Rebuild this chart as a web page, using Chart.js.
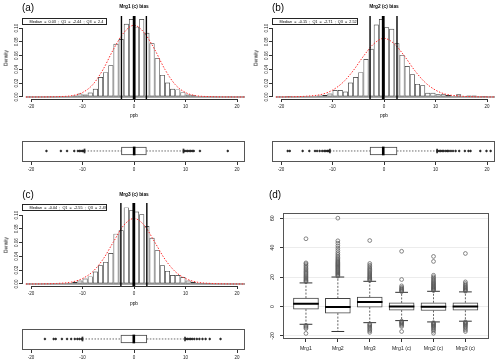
<!DOCTYPE html>
<html lang="en">
<head>
<meta charset="utf-8">
<title>Mrg bias</title>
<script src="https://cdn.jsdelivr.net/npm/chart.js@4.4.1/dist/chart.umd.min.js"></script>
<style>
  body { margin: 0; background: #fff; }
  #fig { position: relative; width: 500px; height: 363px; overflow: hidden; background: #fff;
         font-family: 'Liberation Sans', Arial, sans-serif; color: #000; }
  #fig canvas { position: absolute; }
  .txt { position: absolute; white-space: pre; line-height: 1; transform: translate(-50%, -50%); opacity: 0.99; will-change: transform; }
  .tag { font-size: 10px; }
  .ttl { font-size: 4.8px; font-weight: bold; }
  .lab { font-size: 4.8px; }
  .rot { transform: translate(-50%, -50%) rotate(-90deg); }
  .leg { position: absolute; box-sizing: border-box; height: 7.4px; border: 0.7px solid #222; background: #fff;
         font-size: 3.8px; line-height: 6px; padding-left: 6.6px; white-space: pre; color: #000; opacity: 0.99; will-change: transform; }
</style>
</head>
<body>
<div id="fig">
  <canvas id="histA" width="250" height="120" style="left:0;top:0"></canvas>
  <canvas id="boxA" width="250" height="56" style="left:0;top:121px"></canvas>
  <canvas id="histB" width="250" height="120" style="left:250px;top:0"></canvas>
  <canvas id="boxB" width="250" height="56" style="left:250px;top:121px"></canvas>
  <canvas id="histC" width="250" height="120" style="left:0;top:187px"></canvas>
  <canvas id="boxC" width="250" height="55" style="left:0;top:308px"></canvas>
  <canvas id="boxD" width="250" height="178" style="left:250px;top:185px"></canvas>

  <div class="txt tag" style="left:27.5px;top:7.5px">(a)</div>
  <div class="txt tag" style="left:277.5px;top:7.5px">(b)</div>
  <div class="txt tag" style="left:27.5px;top:195px">(c)</div>
  <div class="txt tag" style="left:275px;top:194.5px">(d)</div>

  <div class="txt ttl" style="left:133.5px;top:7px">Mrg1 (c) bias</div>
  <div class="txt ttl" style="left:383.5px;top:7px">Mrg2 (c) bias</div>
  <div class="txt ttl" style="left:133.5px;top:195px">Mrg3 (c) bias</div>

  <div class="txt lab rot" style="left:7px;top:57.5px">Density</div>
  <div class="txt lab rot" style="left:257px;top:57.5px">Density</div>
  <div class="txt lab rot" style="left:7px;top:244.5px">Density</div>

  <div class="txt lab" style="left:133.5px;top:116px">ppb</div>
  <div class="txt lab" style="left:383.5px;top:116px">ppb</div>
  <div class="txt lab" style="left:133.5px;top:304px">ppb</div>

  <div class="leg" id="legA" style="left:22px;top:17.5px;width:85px"></div>
  <div class="leg" id="legB" style="left:272px;top:17.5px;width:86px"></div>
  <div class="leg" id="legC" style="left:22px;top:204.3px;width:85px"></div>
</div>

<script>
// Dolne granice przedziałów histogramu (ppb), szerokość 1
const binLo = [-21, -20, -19, -18, -17, -16, -15, -14, -13, -12, -11, -10, -9, -8, -7, -6, -5, -4, -3, -2, -1,
  0, 1, 2, 3, 4, 5, 6, 7, 8, 9, 10, 11, 12, 13, 14, 15, 16, 17, 18, 19, 20, 21];

// Gęstości histogramów (a), (b), (c)
const densA = [0, 0, 0, 0, 0.0005, 0, 0.0005, 0.001, 0.001, 0.002, 0.005, 0.0035, 0.0065, 0.012, 0.029, 0.036, 0.046, 0.077, 0.084, 0.106, 0.113,
  0.102, 0.113, 0.093, 0.078, 0.056, 0.032, 0.021, 0.012, 0.011, 0.007, 0.0035, 0.0025, 0.001, 0.001, 0.0005, 0.0005, 0, 0, 0.0005, 0, 0, 0];
const densB = [0, 0, 0.0015, 0, 0.0005, 0.0005, 0.0005, 0.001, 0.002, 0.003, 0.005, 0.010, 0.010, 0.008, 0.021, 0.029, 0.036, 0.055, 0.070, 0.105, 0.113,
  0.101, 0.099, 0.078, 0.061, 0.045, 0.033, 0.019, 0.017, 0.006, 0.006, 0.004, 0.004, 0.003, 0.001, 0.004, 0.001, 0.002, 0.002, 0.0005, 0.0015, 0, 0];
const densC = [0, 0, 0, 0.0005, 0.0005, 0.001, 0.0005, 0.001, 0.0015, 0.003, 0.005, 0.008, 0.011, 0.018, 0.027, 0.032, 0.045, 0.073, 0.078, 0.111, 0.107,
  0.105, 0.101, 0.084, 0.067, 0.049, 0.027, 0.019, 0.013, 0.013, 0.010, 0.005, 0.003, 0.0015, 0.0015, 0.0015, 0, 0, 0, 0, 0, 0, 0];

// Krzywa normalna (czerwona, przerywana)
const curveX = [-21, -18, -15, -12, -10, -8, -6, -4, -2, 0, 2, 4, 6, 8, 10, 12, 15, 18, 22];
const curveA = [0, 0.0001, 0.0005, 0.002, 0.0065, 0.018, 0.040, 0.069, 0.093, 0.104, 0.093, 0.069, 0.040, 0.018, 0.0065, 0.002, 0.0005, 0.0001, 0];
const curveB = [0, 0.0003, 0.0012, 0.004, 0.010, 0.021, 0.038, 0.059, 0.077, 0.085, 0.077, 0.059, 0.038, 0.021, 0.010, 0.004, 0.0012, 0.0003, 0];
const curveC = [0, 0.0002, 0.0008, 0.003, 0.008, 0.018, 0.036, 0.061, 0.085, 0.095, 0.085, 0.061, 0.036, 0.018, 0.008, 0.003, 0.0008, 0.0002, 0];

// Statystyki paneli (a), (b), (c)
const panelMedian = [0.03, -0.15, -0.04];
const panelQ1 = [-2.44, -2.71, -2.55];
const panelQ3 = [2.4, 2.52, 2.49];
const panelWhiskLo = [-9.6, -10.5, -10.0];
const panelWhiskHi = [9.6, 10.3, 9.9];

// Wartości odstające w poziomych wykresach pudełkowych
const outA = [-17, -14.2, -13, -11.6, -10.9, -10.6, -10.3, -10, -9.8, 9.8, 10.1, 10.4, 10.7, 11, 11.3, 11.6, 12.8, 18.2];
const outB = [-18.7, -18.3, -15.8, -14.5, -13.4, -13, -12.5, -12, -11.6, -11.3, -11, -10.8, -10.6,
  10.4, 10.7, 11, 11.3, 11.6, 12, 12.3, 12.6, 13, 13.4, 13.9, 14.6, 15.7, 16.4, 16.8, 18.7, 19.9, 20.7];
const outC = [-17.3, -15.6, -15.2, -14, -13, -12.2, -11.5, -11, -10.6, -10.2,
  10.1, 10.4, 10.7, 11, 11.3, 11.7, 12.2, 12.7, 13.3, 13.9, 14.7, 16.8];

// Panel (d)
const boxGroups = ['Mrg1', 'Mrg2', 'Mrg3', 'Mrg1 (c)', 'Mrg2 (c)', 'Mrg3 (c)'];
const boxQ1 = [-1.8, -4.5, -0.4, -2.44, -2.71, -2.55];
const boxMed = [1.9, -0.4, 3.0, 0.03, -0.15, -0.04];
const boxQ3 = [5.7, 5.5, 6.4, 2.4, 2.52, 2.49];
const boxLo = [-12.1, -17.0, -11.0, -9.6, -10.5, -10.0];
const boxHi = [16.0, 20.0, 17.1, 9.6, 10.3, 9.9];
const boxOut = [
  [16.8, 17.4, 18, 18.7, 19.4, 20.1, 20.8, 21.6, 22.4, 23.2, 24, 24.9, 25.8, 26.8, 27.8, 28.9, 29.6, 46, -12.8, -13.5, -14.2, -15, -18.3],
  [20.6, 21.2, 21.8, 22.4, 23, 23.6, 24.2, 24.8, 25.4, 26, 26.6, 27.2, 27.8, 28.4, 29, 29.6, 30.2, 30.9, 31.6, 32.4, 33.3, 34.3, 35.4, 36.6, 38.1, 39.6, 41.2, 43, 44.6, 60],
  [17.6, 18.2, 18.8, 19.4, 20, 20.7, 21.4, 22.1, 22.8, 23.6, 24.4, 25.2, 26, 27, 28, 29.2, 44.8, -11.8, -12.5, -13.2, -14, -14.8, -15.7, -16.6, -17.6],
  [10.1, 10.6, 11.1, 11.7, 12.3, 13, 14, 18.3, 37.5, -10, -10.5, -11, -11.5, -12.1, -12.8, -13.6, -17],
  [10.8, 11.3, 11.8, 12.3, 12.8, 13.3, 13.8, 14.4, 15, 15.6, 16.2, 16.9, 17.6, 18.4, 19.2, 20.1, 21.2, 30.6, 34, -11, -11.5, -12, -12.5, -13, -13.6, -14.2, -15, -15.8, -16.8, -18.2],
  [10.4, 10.9, 11.4, 12, 12.6, 13.2, 13.9, 14.7, 15.6, 16.7, 36, -10.5, -11, -11.5, -12, -12.6, -13.3, -14, -14.9, -15.9, -17]
];

// Etykiety osi
const histXTicks = [-20, -10, 0, 10, 20];
const densTicks = [0, 0.02, 0.04, 0.06, 0.08, 0.10];
const boxYTicks = [-20, 0, 20, 40, 60];

// Zakresy osi (jak w R, z marginesem 4%)
const histXMin = -21.75, histXMax = 21.55;
const histYMin = -0.0029, histYMax = 0.1174;
const boxXMin = 0.28, boxXMax = 6.74;
const boxYMin = -22.1, boxYMax = 63.5;

const FONT = "'Liberation Sans', Arial, sans-serif";

// Wtyczka: ramka i linie osi w stylu R
const rAxes = {
  id: 'rAxes',
  afterDraw(chart, args, opts) {
    const ctx = chart.ctx;
    const a = chart.chartArea;
    ctx.save();
    ctx.lineWidth = 1;
    ctx.strokeStyle = opts.color || '#333';
    if (opts.frame) {
      ctx.strokeRect(Math.round(a.left) + 0.5, Math.round(a.top) + 0.5,
        Math.round(a.right - a.left) - 1, Math.round(a.bottom - a.top) - 1);
    }
    if (opts.axisLines) {
      const sx = chart.scales.x, sy = chart.scales.y;
      const tx = sx.ticks, ty = sy.ticks;
      const yb = Math.round(a.bottom) + 0.5, xl = Math.round(a.left) + 0.5;
      ctx.beginPath();
      ctx.moveTo(sx.getPixelForValue(tx[0].value), yb);
      ctx.lineTo(sx.getPixelForValue(tx[tx.length - 1].value), yb);
      ctx.moveTo(xl, sy.getPixelForValue(ty[0].value));
      ctx.lineTo(xl, sy.getPixelForValue(ty[ty.length - 1].value));
      ctx.stroke();
    }
    ctx.restore();
  }
};

// Funkcja pomocnicza: oś X z podanymi etykietami
function xAxis(min, max, ticks, height, fontSize, pad, cb) {
  return {
    type: 'linear', min: min, max: max, offset: false,
    grid: { offset: false, drawOnChartArea: false, tickLength: 3, color: '#333' },
    border: { display: false },
    ticks: { font: { size: fontSize, family: FONT }, color: '#222', padding: pad, maxRotation: 0, autoSkip: false, callback: cb },
    afterBuildTicks: s => { s.ticks = ticks.map(v => ({ value: v })); },
    afterFit: s => { s.height = height; }
  };
}

// Funkcja pomocnicza: oś Y z pionowymi etykietami
function yAxis(min, max, ticks, width, fontSize, pad, cb, gridColor) {
  return {
    type: 'linear', min: min, max: max, offset: false,
    grid: { offset: false, drawOnChartArea: !!gridColor, color: gridColor || '#333', tickColor: '#333', tickLength: 3 },
    border: { display: false },
    ticks: { font: { size: fontSize, family: FONT }, color: '#222', padding: pad, minRotation: 90, maxRotation: 90, crossAlign: 'center', callback: cb },
    afterBuildTicks: s => { s.ticks = ticks.map(v => ({ value: v })); },
    afterFit: s => { s.width = width; }
  };
}

// Funkcja do rysowania histogramu z kwartylami i krzywą
function drawHist(id, dens, curve, p) {
  const vline = (x, w) => ({
    type: 'line', data: [{ x: x, y: histYMin }, { x: x, y: histYMax }],
    borderColor: '#000', borderWidth: w, pointRadius: 0
  });
  new Chart(document.getElementById(id), {
    type: 'bar',
    data: {
      datasets: [
        vline(panelMedian[p], 2.8),
        vline(panelQ1[p], 1.4),
        vline(panelQ3[p], 1.4),
        {
          type: 'line', data: curveX.map((x, i) => ({ x: x, y: curve[i] })),
          borderColor: '#ff2a2a', borderWidth: 1, borderDash: [1.5, 1.5], pointRadius: 0, cubicInterpolationMode: 'monotone'
        },
        {
          type: 'line', data: [{ x: binLo[0], y: 0 }, { x: binLo[binLo.length - 1] + 1, y: 0 }],
          borderColor: '#555', borderWidth: 1, pointRadius: 0
        },
        {
          type: 'bar', data: binLo.map((b, i) => ({ x: b + 0.5, y: dens[i] })),
          backgroundColor: 'rgba(0,0,0,0)', borderColor: '#333', borderWidth: 0.7, borderSkipped: false,
          barPercentage: 1, categoryPercentage: 1, inflateAmount: 0
        }
      ]
    },
    options: {
      responsive: false, animation: false, events: [],
      layout: { padding: { left: 0, right: 5, top: 16, bottom: 0 } },
      plugins: { legend: { display: false }, tooltip: { enabled: false }, rAxes: { axisLines: true } },
      scales: {
        x: xAxis(histXMin, histXMax, histXTicks, 21, 4.5, 2),
        y: yAxis(histYMin, histYMax, densTicks, 22, 4.5, -2, v => v.toFixed(2))
      }
    },
    plugins: [rAxes]
  });
}

// Funkcja do rysowania poziomego wykresu pudełkowego
function drawHBox(id, out, p, topPad, axisH) {
  const med = panelMedian[p], q1 = panelQ1[p], q3 = panelQ3[p];
  const lo = panelWhiskLo[p], hi = panelWhiskHi[p];
  const hbar = (data, color, thick, border) => ({
    type: 'bar', indexAxis: 'y', grouped: false, data: data,
    backgroundColor: color, borderColor: '#444', borderWidth: border, borderSkipped: false, barThickness: thick
  });
  new Chart(document.getElementById(id), {
    type: 'bar',
    data: {
      datasets: [
        { type: 'scatter', data: out.map(v => ({ x: v, y: 0 })), pointRadius: 0.9, borderWidth: 0.6, borderColor: '#111', backgroundColor: '#333' },
        hbar([{ y: 0, x: [med - 0.19, med + 0.19] }], '#000', 8, 0),
        hbar([{ y: 0, x: [lo - 0.1, lo + 0.1] }, { y: 0, x: [hi - 0.1, hi + 0.1] }], '#333', 4, 0),
        {
          type: 'line', data: [{ x: lo, y: 0 }, { x: q1, y: 0 }, { x: q1, y: null }, { x: q3, y: 0 }, { x: hi, y: 0 }],
          borderColor: '#444', borderWidth: 0.8, borderDash: [1.5, 1.5], pointRadius: 0, spanGaps: false
        },
        hbar([{ y: 0, x: [q1, q3] }], '#fff', 8, 1)
      ]
    },
    options: {
      responsive: false, animation: false, events: [],
      layout: { padding: { left: 22, right: 5, top: topPad, bottom: 0 } },
      plugins: { legend: { display: false }, tooltip: { enabled: false }, rAxes: { frame: true, color: '#555' } },
      scales: {
        x: xAxis(histXMin, histXMax, histXTicks, axisH, 4.5, 2),
        y: { type: 'linear', min: -1.05, max: 0.95, offset: false, display: false }
      }
    },
    plugins: [rAxes]
  });
}

// Funkcja do rysowania panelu (d)
function drawBoxes() {
  const n = boxGroups.length;
  const medians = [], whiskers = [], caps = [], points = [];
  for (let i = 0; i < n; i++) {
    const c = i + 1;
    medians.push({ x: c - 0.4, y: boxMed[i] }, { x: c + 0.4, y: boxMed[i] }, { x: c + 0.4, y: null });
    whiskers.push({ x: c, y: boxQ3[i] }, { x: c, y: boxHi[i] }, { x: c, y: null },
      { x: c, y: boxQ1[i] }, { x: c, y: boxLo[i] }, { x: c, y: null });
    caps.push({ x: c - 0.2, y: boxHi[i] }, { x: c + 0.2, y: boxHi[i] }, { x: c + 0.2, y: null },
      { x: c - 0.2, y: boxLo[i] }, { x: c + 0.2, y: boxLo[i] }, { x: c + 0.2, y: null });
    boxOut[i].forEach(v => points.push({ x: c, y: v }));
  }
  new Chart(document.getElementById('boxD'), {
    type: 'bar',
    data: {
      datasets: [
        { type: 'scatter', data: points, pointRadius: 1.9, borderWidth: 0.7, borderColor: '#555', backgroundColor: 'rgba(0,0,0,0)' },
        { type: 'line', data: medians, borderColor: '#000', borderWidth: 2, pointRadius: 0, spanGaps: false },
        { type: 'line', data: caps, borderColor: '#333', borderWidth: 1, pointRadius: 0, spanGaps: false },
        { type: 'line', data: whiskers, borderColor: '#555', borderWidth: 0.9, borderDash: [2, 1.5], pointRadius: 0, spanGaps: false },
        {
          type: 'bar', data: boxGroups.map((g, i) => ({ x: i + 1, y: [boxQ1[i], boxQ3[i]] })),
          backgroundColor: '#fff', borderColor: '#444', borderWidth: 1, borderSkipped: false, barThickness: 25
        }
      ]
    },
    options: {
      responsive: false, animation: false, events: [],
      layout: { padding: { left: 0, right: 11, top: 28, bottom: 0 } },
      plugins: { legend: { display: false }, tooltip: { enabled: false }, rAxes: { frame: true, color: '#555' } },
      scales: {
        x: xAxis(boxXMin, boxXMax, boxGroups.map((g, i) => i + 1), 24, 5.2, 3.4, v => boxGroups[v - 1]),
        y: yAxis(boxYMin, boxYMax, boxYTicks, 33, 5.2, 4, v => String(v), '#ececec')
      }
    },
    plugins: [rAxes]
  });
}

// Funkcja do wpisania tekstu legendy
function setLegend(id, p) {
  document.getElementById(id).textContent =
    `Median  =  ${panelMedian[p]}  ;  Q1  =  ${panelQ1[p]}  ;  Q3  =  ${panelQ3[p]}`;
}

// Inicjalizacja
function init() {
  Chart.defaults.font.family = FONT;
  drawHist('histA', densA, curveA, 0);
  drawHist('histB', densB, curveB, 1);
  drawHist('histC', densC, curveC, 2);
  drawHBox('boxA', outA, 0, 20, 15);
  drawHBox('boxB', outB, 1, 20, 15);
  drawHBox('boxC', outC, 2, 21, 13);
  drawBoxes();
  setLegend('legA', 0);
  setLegend('legB', 1);
  setLegend('legC', 2);
}

window.onload = init;
</script>
</body>
</html>
